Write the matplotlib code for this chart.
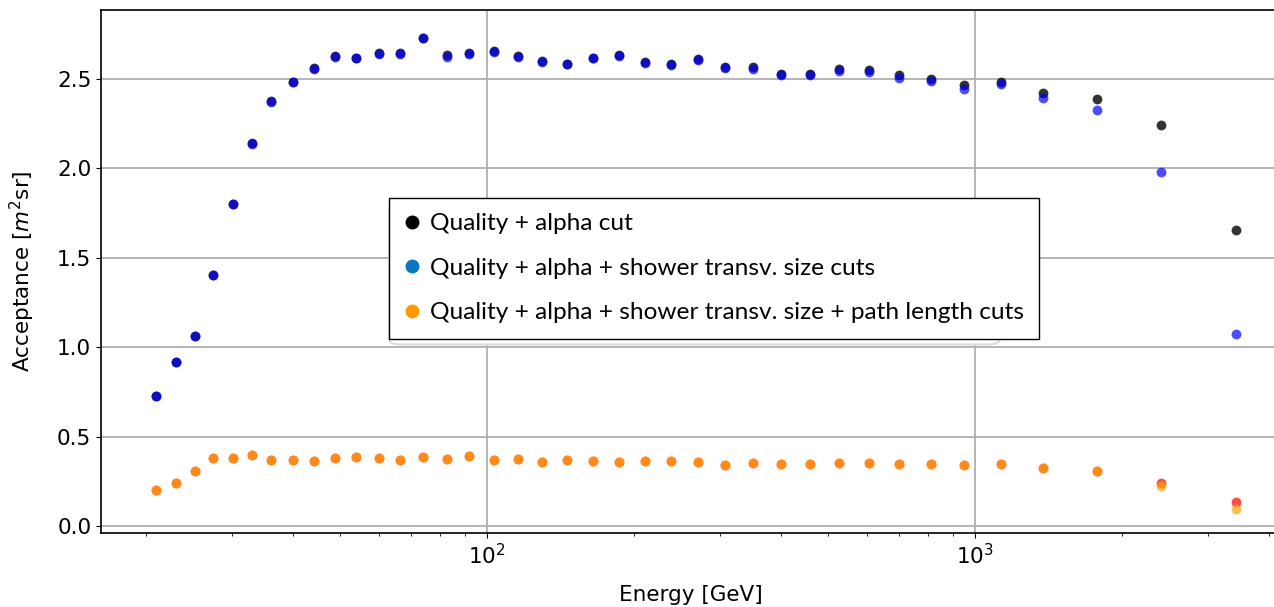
import matplotlib
matplotlib.use("Agg")
import matplotlib.pyplot as plt
from matplotlib.lines import Line2D
from matplotlib.patches import FancyBboxPatch

# energy bin centres [GeV]
energy = [21.0, 23.0, 25.2, 27.5, 30.2, 33.0, 36.1, 40.0, 44.2, 48.8,
          53.9, 60.0, 66.3, 73.9, 82.8, 91.9, 103.4, 115.8, 129.7, 146.0,
          164.9, 186.2, 210.5, 238.3, 270.6, 307.4, 350.4, 399.7, 459.1, 527.1,
          607.3, 698.7, 811.3, 949.5, 1129, 1378, 1778, 2409, 3422]

# acceptance [m^2 sr]
acc_quality_alpha = [0.73, 0.915, 1.065, 1.406, 1.803, 2.14, 2.375, 2.485, 2.56, 2.627,
                     2.62, 2.645, 2.645, 2.73, 2.635, 2.645, 2.655, 2.627, 2.6, 2.585,
                     2.62, 2.632, 2.593, 2.585, 2.61, 2.567, 2.57, 2.53, 2.53, 2.555,
                     2.55, 2.522, 2.5, 2.466, 2.481, 2.42, 2.39, 2.243, 1.654]
acc_shower_size = [0.727, 0.915, 1.063, 1.406, 1.803, 2.135, 2.373, 2.483, 2.558, 2.625,
                   2.616, 2.642, 2.642, 2.728, 2.625, 2.642, 2.652, 2.625, 2.597, 2.582,
                   2.617, 2.629, 2.588, 2.578, 2.608, 2.56, 2.556, 2.522, 2.522, 2.543,
                   2.537, 2.504, 2.489, 2.444, 2.47, 2.392, 2.328, 1.978, 1.074]
acc_shower_size_red = [0.201, 0.242, 0.308, 0.382, 0.38, 0.397, 0.371, 0.371, 0.365, 0.38,
                       0.384, 0.382, 0.371, 0.384, 0.373, 0.393, 0.369, 0.375, 0.358, 0.369,
                       0.365, 0.356, 0.365, 0.365, 0.356, 0.343, 0.35, 0.347, 0.347, 0.35,
                       0.35, 0.345, 0.345, 0.339, 0.345, 0.323, 0.31, 0.242, 0.134]
acc_path_length = [0.201, 0.242, 0.308, 0.382, 0.38, 0.397, 0.371, 0.371, 0.365, 0.38,
                   0.384, 0.382, 0.371, 0.384, 0.373, 0.393, 0.369, 0.375, 0.358, 0.369,
                   0.365, 0.356, 0.365, 0.365, 0.356, 0.343, 0.35, 0.347, 0.347, 0.35,
                   0.35, 0.345, 0.345, 0.339, 0.345, 0.323, 0.308, 0.224, 0.095]

legend_labels = ["Quality + alpha cut",
                 "Quality + alpha + shower transv. size cuts",
                 "Quality + alpha + shower transv. size + path length cuts"]

fig = plt.figure(figsize=(12.74, 6.07), dpi=100)
ax = fig.add_axes([101 / 1274, 74 / 607, 1179 / 1274, 523.5 / 607])

ax.scatter(energy, acc_quality_alpha, s=50, color="black", alpha=0.8, lw=0, zorder=3)
ax.scatter(energy, acc_shower_size, s=50, color="blue", alpha=0.7, lw=0, zorder=4)
ax.scatter(energy, acc_shower_size_red, s=50, color="red", alpha=0.7, lw=0, zorder=3)
ax.scatter(energy, acc_path_length, s=50, color="orange", alpha=0.7, lw=0, zorder=4)

ax.set_xscale("log")
ax.set_xlim(16.18, 4217)
ax.set_ylim(-0.039, 2.889)
ax.set_yticks([0.0, 0.5, 1.0, 1.5, 2.0, 2.5])
ax.grid(True, color="#b0b0b0", linewidth=1.3)
ax.set_axisbelow(True)
ax.tick_params(labelsize=15.5)
ax.spines["right"].set_visible(False)
for s in ["left", "bottom", "top"]:
    ax.spines[s].set_linewidth(1.2)

ax.set_xlabel("Energy [GeV]", fontsize=15.5, labelpad=12)
ax.set_ylabel("Acceptance [$m^2$sr]", fontsize=15.5, labelpad=14)

# faint box left over from the original legend
ghost = FancyBboxPatch((0.2443, 0.36), 0.518, 0.27, boxstyle="round,pad=0,rounding_size=0.01",
                       transform=ax.transAxes, facecolor="white", edgecolor="#dcdcdc",
                       linewidth=1.5, zorder=5)
ax.add_patch(ghost)

handles = [Line2D([], [], ls="none", marker="o", markersize=9, color=c)
           for c in ["black", "#0a78c0", "#ff9a00"]]
leg = ax.legend(handles, legend_labels, loc="upper left", bbox_to_anchor=(0.2443, 0.640),
                borderaxespad=0, fancybox=False, framealpha=1, edgecolor="black",
                prop={"family": "Lato", "size": 17.6}, handlelength=0.6,
                handletextpad=0.45, labelspacing=0.96, borderpad=0.62)
leg.get_frame().set_linewidth(1.0)
leg.set_zorder(6)

fig.savefig("out.png", dpi=100)
